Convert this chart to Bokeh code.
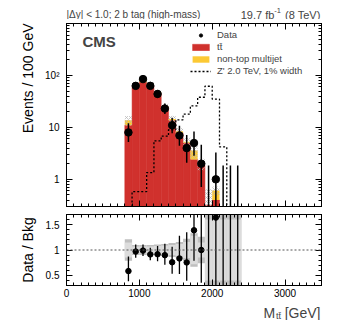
import numpy as np
from bokeh.plotting import figure
from bokeh.layouts import column
from bokeh.models import (Range1d, FixedTicker, LinearAxis, LogAxis, Label,
                          Legend, LegendItem, Span, CustomLabelingPolicy, Title)
from bokeh.embed import file_html
from bokeh.resources import INLINE

# ---------------- data (events / 100 GeV) ----------------
bin_edges = [800, 900, 1000, 1100, 1200, 1300, 1400, 1500, 1600, 1700,
             1800, 1900, 2000, 2100, 2200, 2300, 2400]
ttbar = [11.0, 61.0, 74.0, 63.0, 45.0, 24.5, 13.8, 7.8, 5.0, 2.4,
         1.88, 0.32, 0.40, 0.06, 0.05, 0.04]
multijet = [2.7, 4.0, 12.0, 6.0, 3.0, 1.1, 0.7, 0.6, 0.3, 1.2,
            0.12, 0.0, 0.21, 0.0, 0.0, 0.0]
zprime = [0.0, 0.58, 0.58, 1.35, 5.5, 6.8, 9.0, 14.0, 18.0, 26.0,
          38.0, 62.0, 35.0, 4.2, 0.0, 0.0]
data = [8, 63, 85, 63, 44, 23, 11, 7, 4, 5, 2, 0, 1, 0, 0, 0]
data_err_lo = [2.77, 7.9, 9.2, 7.9, 6.6, 4.8, 3.3, 2.58, 1.91, 2.16,
               1.29, 0.0, 0.83, 0.0, 0.0, 0.0]
data_err_hi = [3.95, 8.9, 10.2, 8.9, 7.7, 5.8, 4.4, 3.77, 3.16, 3.38,
               2.64, 1.84, 2.30, 1.84, 1.84, 1.84]
# relative background uncertainties
unc_hatch = [0.21, 0.10, 0.10, 0.11, 0.11, 0.13, 0.15, 0.17, 0.20, 0.30,
             0.25, 1.0, 0.2, 0.0, 0.0, 0.0]
unc_total = [0.21, 0.10, 0.10, 0.10, 0.11, 0.12, 0.14, 0.16, 0.22, 0.33,
             0.26, 1.0, 1.0, 1.0, 1.0, 1.0]
unc_inner = [0.15, 0.07, 0.07, 0.07, 0.08, 0.09, 0.10, 0.12, 0.16, 0.28,
             0.15, 0.6, 0.6, 0.6, 0.6, 0.6]

x_major = [0, 1000, 2000, 3000]
y_major = [1, 10, 100, 1000]
y_labels = {1.0: "1", 10.0: "10", 100.0: "10²", 1000.0: ""}
r_major = [0.5, 1.0, 1.5]
r_labels = {0.5: "0.5", 1.0: "1", 1.5: "1.5"}

# ---------------- derived ----------------
FLOOR = 1e-3
left = np.array(bin_edges[:-1], float)
right = np.array(bin_edges[1:], float)
centers = 0.5 * (left + right)
tt = np.array(ttbar)
mj = np.array(multijet)
bkg = tt + mj
d = np.array(data, float)
elo = np.array(data_err_lo)
ehi = np.array(data_err_hi)

FONT = "Liberation Sans"
RED = "#d0312d"
YEL = "#fcc934"
W = 341
BL, BR = 66, 20

xr = Range1d(0, 3500)
x_ticker = FixedTicker(ticks=x_major, minor_ticks=list(range(0, 3501, 100)))
y_minor = [v * 10.0 ** e for e in range(-1, 3) for v in range(2, 10)]
y_ticker = FixedTicker(ticks=y_major, minor_ticks=y_minor)
r_ticker = FixedTicker(ticks=r_major,
                       minor_ticks=[round(0.3 + 0.1 * i, 1) for i in range(15)])


def style(ax, labels=True, standoff=4):
    ax.major_tick_in = 6
    ax.major_tick_out = 0
    ax.minor_tick_in = 3
    ax.minor_tick_out = 0
    ax.axis_line_color = "black"
    ax.major_tick_line_color = "black"
    ax.minor_tick_line_color = "black"
    ax.major_label_text_font = FONT
    ax.major_label_text_font_size = "10px"
    ax.major_label_text_color = "black"
    ax.major_label_standoff = standoff
    if not labels:
        ax.major_label_text_font_size = "1px"
        ax.major_label_standoff = 0
        ax.major_label_policy = CustomLabelingPolicy(code="return [];")
    ax.axis_label = None


def side_title(text, align):
    return Title(text=text, align=align, text_font=FONT, text_font_size="14px",
                 text_font_style="normal", text_color="black", standoff=13)


def blank_fig(height):
    f = figure(width=W, height=height, x_range=Range1d(0, 1), y_range=Range1d(0, 1),
               output_backend="svg", toolbar_location=None,
               x_axis_location=None, y_axis_location=None,
               min_border_left=BL, min_border_right=BR, min_border_top=0,
               min_border_bottom=0)
    f.outline_line_color = None
    f.xgrid.visible = False
    f.ygrid.visible = False
    return f


def txt(x, y, text, size, align="left", style="normal"):
    return Label(x=x, y=y, x_units="screen", y_units="screen", text=text,
                 text_font=FONT, text_font_size=size, text_align=align,
                 text_font_style=style, text_baseline="alphabetic")


# ---------------- header ----------------
p0 = blank_fig(19)
p0.add_layout(txt(0, 5.5, "|Δy| < 1.0; 2 b tag (high-mass)", "10px"))
p0.add_layout(txt(254, 4.8, "(8 TeV)", "11px", align="right"))
p0.add_layout(txt(214.3, 9.3, "-1", "7.5px", align="right"))
p0.add_layout(txt(207.8, 4.8, "19.7 fb", "11px", align="right"))

# ---------------- top panel ----------------
p1 = figure(width=W, height=191, x_range=xr, y_range=Range1d(0.3, 1000),
            y_axis_type="log", output_backend="svg", toolbar_location=None,
            min_border_left=BL, min_border_right=BR, min_border_top=0,
            min_border_bottom=0)
p1.xgrid.visible = False
p1.ygrid.visible = False
p1.outline_line_color = "black"

r_tt = p1.quad(left=left, right=right, bottom=FLOOR, top=tt,
               fill_color=RED, line_color=RED, line_width=0.5)
r_mj = p1.quad(left=left, right=right, bottom=np.maximum(tt, FLOOR),
               top=np.maximum(bkg, FLOOR), fill_color=YEL, line_color=None)
hb = np.maximum(bkg * (1 - np.array(unc_hatch)), FLOOR)
ht = np.maximum(bkg * (1 + np.array(unc_hatch)), FLOOR)
p1.quad(left=left, right=right, bottom=hb, top=ht, fill_alpha=0, line_color=None,
        hatch_pattern="x", hatch_color="#b4b4b4", hatch_scale=4, hatch_weight=0.7)

z_vals = [max(v, FLOOR) for v in zprime] + [FLOOR]
r_z = p1.step(x=list(bin_edges), y=z_vals, mode="after", line_color="black",
              line_dash="2 2", line_width=1.3)

p1.segment(x0=centers, x1=centers, y0=np.maximum(d - elo, FLOOR), y1=d + ehi,
           line_color="black", line_width=1.5)
mask = d > 0
r_data = p1.scatter(x=centers[mask], y=d[mask], size=7.5, color="black")

style(p1.xaxis[0], labels=False)
p1.xaxis[0].ticker = x_ticker
style(p1.yaxis[0], standoff=7)
p1.yaxis[0].ticker = y_ticker
p1.yaxis[0].major_label_overrides = y_labels
ax_top = LinearAxis(ticker=x_ticker)
style(ax_top, labels=False)
p1.add_layout(ax_top, "above")
ax_right = LogAxis(ticker=y_ticker)
style(ax_right, labels=False)
p1.add_layout(ax_right, "right")
p1.add_layout(side_title("Events / 100 GeV", "right"), "left")

legend = Legend(items=[
    LegendItem(label="Data", renderers=[r_data]),
    LegendItem(label="tt\u0304", renderers=[r_tt]),
    LegendItem(label="non-top multijet", renderers=[r_mj]),
    LegendItem(label="Z' 2.0 TeV, 1% width", renderers=[r_z]),
], location=(124, 130), background_fill_alpha=0, border_line_color=None,
    padding=0, margin=0, spacing=1, glyph_width=21, glyph_height=8,
    label_height=9, label_standoff=6, label_text_font=FONT,
    label_text_font_size="9.5px")
p1.add_layout(legend)

p1.add_layout(txt(16, 164.7, "CMS", "15px", style="bold"))

# ---------------- ratio panel ----------------
p2 = figure(width=W, height=89, x_range=xr, y_range=Range1d(0.3, 1.7),
            output_backend="svg", toolbar_location=None,
            min_border_left=BL, min_border_right=BR, min_border_top=0,
            min_border_bottom=14)
p2.xgrid.visible = False
p2.ygrid.visible = False
p2.outline_line_color = "black"

ut = np.array(unc_total)
ui = np.array(unc_inner)
p2.quad(left=left, right=right, bottom=1 - ut, top=1 + ut,
        fill_color="#bfbfbf", line_color=None)
p2.quad(left=left, right=right, bottom=1 - ui, top=1 + ui,
        fill_color="#dcdcdc", line_color=None)
p2.add_layout(Span(location=1.0, dimension="width", line_color="#555555",
                   line_dash="2 2", line_width=1))

ratio = d / bkg
p2.segment(x0=centers, x1=centers, y0=(d - elo) / bkg, y1=(d + ehi) / bkg,
           line_color="black", line_width=1.3)
p2.scatter(x=centers[mask], y=ratio[mask], size=5.5, color="black")

style(p2.xaxis[0], standoff=3)
p2.xaxis[0].ticker = x_ticker
style(p2.yaxis[0], standoff=7)
p2.yaxis[0].ticker = r_ticker
p2.yaxis[0].major_label_overrides = r_labels
ax_top2 = LinearAxis(ticker=x_ticker)
style(ax_top2, labels=False)
p2.add_layout(ax_top2, "above")
ax_right2 = LinearAxis(ticker=r_ticker)
style(ax_right2, labels=False)
p2.add_layout(ax_right2, "right")
p2.add_layout(side_title("Data / Bkg", "center"), "left")

# ---------------- footer (x-axis title) ----------------
p3 = blank_fig(21)
p3.add_layout(txt(197, 7.5, "M", "14px"))
p3.add_layout(txt(209.5, 4.5, "tt\u0304", "9px"))
p3.add_layout(txt(254, 7.5, "[GeV]", "14px", align="right"))

layout = column(p0, p1, p2, p3, spacing=0)
open("out.html", "w").write(file_html(layout, INLINE))
